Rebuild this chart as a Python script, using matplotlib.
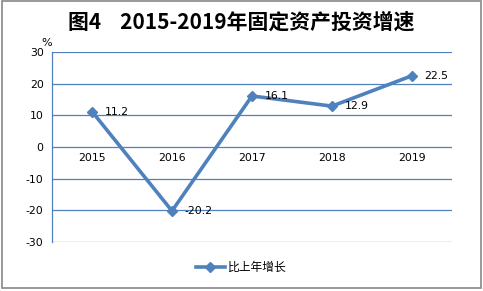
import matplotlib.pyplot as plt
from matplotlib.patches import Rectangle

plt.rcParams['font.family'] = ['Noto Sans CJK SC', 'DejaVu Sans']

years = ['2015', '2016', '2017', '2018', '2019']
growth = [11.2, -20.2, 16.1, 12.9, 22.5]
yticks = [-30, -20, -10, 0, 10, 20, 30]
title = '图4    2015-2019年固定资产投资增速'
series_name = '比上年增长'

blue = '#4F81BD'

fig = plt.figure(figsize=(4.83, 2.91), dpi=100)
fig.patches.append(Rectangle((0.004, 0.012), 0.991, 0.984, transform=fig.transFigure,
                             fill=False, edgecolor='#888888', linewidth=1.2))

ax = fig.add_axes([0.1077, 0.1684, 0.828, 0.653])
x = list(range(len(years)))
line, = ax.plot(x, growth, color=blue, linewidth=2.6, marker='D', markersize=5,
                label=series_name)

ax.set_xlim(-0.5, len(years) - 0.5)
ax.set_ylim(-30, 30)
ax.set_yticks(yticks)
ax.set_yticklabels([str(v) for v in yticks], fontsize=7.8, family='DejaVu Sans')
ax.set_xticks([])
ax.tick_params(axis='y', length=0, pad=6)
for v in yticks:
    ax.axhline(v, color=blue, linewidth=0.9, zorder=0)
for s in ['top', 'right', 'bottom']:
    ax.spines[s].set_visible(False)
ax.spines['left'].set_color(blue)
ax.spines['left'].set_linewidth(0.9)

# category labels just under the zero line
for i, yr in enumerate(years):
    ax.text(i, -3.6, yr, ha='center', va='center', fontsize=7.8, family='DejaVu Sans')

# data labels
for i, v in enumerate(growth):
    ax.annotate(f'{v}', (i, v), xytext=(9, 0), textcoords='offset points',
                ha='left', va='center', fontsize=7.8, family='DejaVu Sans')

ax.text(-0.5, 31.2, '%', ha='right', va='bottom', fontsize=8, family='DejaVu Sans')

fig.text(0.5, 0.925, title, ha='center', va='center', fontsize=15, fontweight='bold')

fig.legend(handles=[line], loc='center', bbox_to_anchor=(0.5, 0.08), frameon=False,
           fontsize=8.5, handlelength=2.4, handletextpad=0.3)

fig.savefig('out.png', dpi=100)
